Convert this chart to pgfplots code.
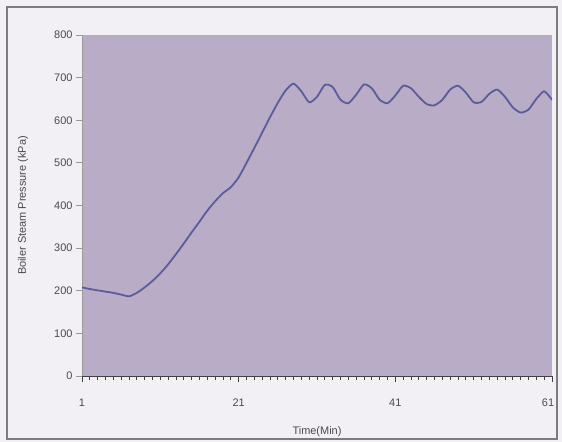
\documentclass[border=0pt]{standalone}
\usepackage{pgfplots}
\pgfplotsset{compat=1.18}
\usepackage{fontspec}
\setmainfont{Liberation Sans}
\definecolor{bgc}{HTML}{F2F0F4}
\definecolor{framec}{HTML}{7C7B80}
\definecolor{plotc}{HTML}{B9ACC6}
\definecolor{linec}{HTML}{5A5C9C}
\definecolor{txtc}{HTML}{4A4A4E}
\begin{document}
\begin{tikzpicture}
\fill[bgc] (-82bp,-66bp) rectangle (480bp,376bp);
\draw[framec, line width=1.6bp] (-75bp,-63bp) rectangle (475bp,369bp);
\begin{axis}[
  at={(0,0)}, anchor=south west,
  scale only axis, width=470bp, height=341bp,
  xmin=1, xmax=61, ymin=0, ymax=800,
  axis background/.style={fill=plotc},
  axis x line*=bottom, axis y line*=left,
  x axis line style={black!75, line width=0.9bp},
  y axis line style={gray!80, line width=0.9bp},
  xtick={1,21,41,61}, minor xtick={1,2,...,61},
  xticklabels={1,21,41,{\hspace*{-8bp}61}},
  ytick={0,100,...,800},
  tick align=outside,
  major tick length=6bp, minor tick length=4bp,
  x tick style={black!75, line width=0.7bp},
  y tick style={gray!80, line width=0.8bp},
  tick label style={font=\fontsize{11}{13}\selectfont, text=txtc},
  xticklabel style={yshift=-13bp},
  /pgf/number format/assume math mode=true,
  xlabel={Time(Min)},
  ylabel={Boiler Steam Pressure (kPa)},
  label style={font=\fontsize{11}{13}\selectfont, text=txtc},
  xlabel style={at={(axis description cs:0.5,-0.1642)}, anchor=center},
  ylabel style={at={(axis description cs:-0.1255,0.5)}, anchor=center},
]
\addplot[linec, line width=1.8bp, smooth, tension=0.4, line join=round] table {
x y
1 208
2 204
3 201
4 198
5 195
6 191
7 187
8 195
9 208
10 223
11 241
12 262
13 286
14 311
15 337
16 362
17 388
18 410
19 429
20 443
21 466
22 500
23 535
24 571
25 607
26 641
27 670
28 686
29 668
30 642
31 655
32 683
33 678
34 648
35 640
36 660
37 684
38 675
39 648
40 640
41 658
42 681
43 675
44 655
45 638
46 635
47 648
48 672
49 681
50 665
51 642
52 643
53 662
54 672
55 655
56 630
57 618
58 625
59 650
60 668
61 648
};
\end{axis}
\pgfresetboundingbox
\path[use as bounding box] (-82bp,-66bp) rectangle (480bp,376bp);
\end{tikzpicture}
\end{document}
